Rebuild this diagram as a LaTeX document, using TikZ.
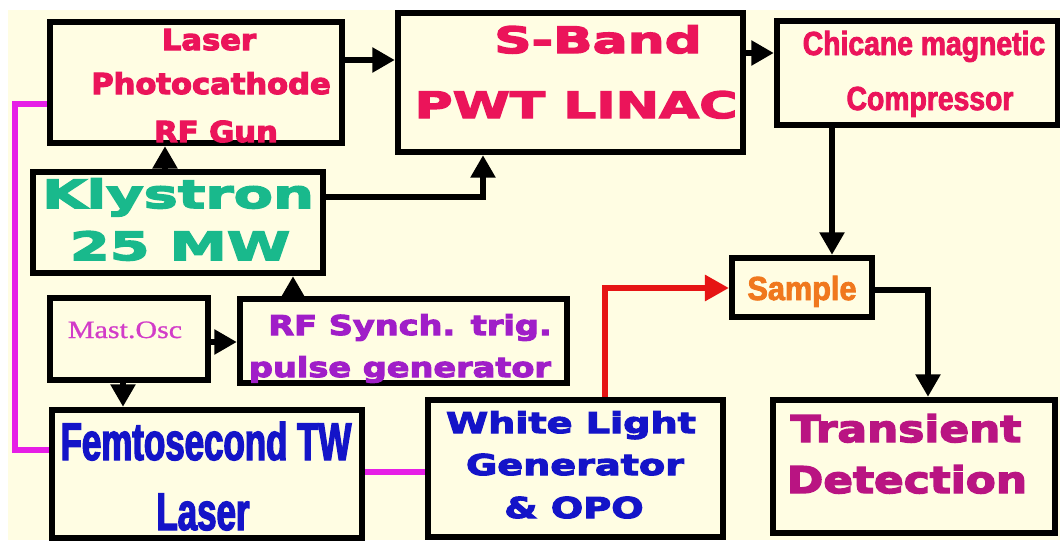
\documentclass[tikz,border=0pt]{standalone}
\usepackage{fontspec}
\usetikzlibrary{arrows.meta,fit}
\newfontfamily\heavyf{DejaVu Sans}
\newfontfamily\condf{Liberation Sans}
\newfontfamily\seriff{Liberation Serif}
\newcommand\HvyFont[2]{\heavyf\bfseries\fontsize{#1}{#1}\selectfont\addfontfeatures{FakeStretch=#2,FakeBold=4}}
\newcommand\CndFont[2]{\condf\bfseries\fontsize{#1}{#1}\selectfont\addfontfeatures{FakeStretch=#2,FakeBold=2.5}}
\definecolor{bgcream}{RGB}{255,253,227}
\definecolor{crimson}{RGB}{235,20,90}
\definecolor{klygreen}{RGB}{25,185,140}
\definecolor{mastpink}{RGB}{210,60,200}
\definecolor{rfpurple}{RGB}{160,30,200}
\definecolor{deepblue}{RGB}{20,20,200}
\definecolor{sampleorange}{RGB}{240,120,30}
\definecolor{transpurple}{RGB}{185,20,130}
\definecolor{magline}{RGB}{230,30,230}
\definecolor{redline}{RGB}{230,20,20}
\tikzset{
  box/.style={draw=black, line width=4.5pt, inner sep=0pt},
  conn/.style={draw=black, line width=4pt, -{Triangle[length=16pt,width=17pt]}},
  redconn/.style={draw=redline, line width=3.6pt, -{Triangle[length=17pt,width=18pt]}},
  magconn/.style={draw=magline, line width=3.8pt},
  txt/.style={anchor=base, inner sep=0pt},
  guntxt/.style={txt, text=crimson, font=\HvyFont{20.5}{1.06}},
  linactxt/.style={txt, text=crimson, font=\HvyFont{25.8}{1.43}},
  chictxt/.style={txt, text=crimson, font=\CndFont{23.7}{0.85}},
  klytxt/.style={txt, text=klygreen, font=\HvyFont{27.6}{1.48}},
  masttxt/.style={txt, text=mastpink, font={\seriff\fontsize{17.8}{17.8}\selectfont\addfontfeatures{FakeStretch=1.2,FakeBold=0.8}}},
  rftxt/.style={txt, text=rfpurple, font=\HvyFont{19.4}{1.23}},
  femtotxt/.style={txt, text=deepblue, font=\CndFont{37.6}{0.66}},
  whitetxt/.style={txt, text=deepblue, font=\HvyFont{20.4}{1.33}},
  sampletxt/.style={txt, text=sampleorange, font=\CndFont{23.7}{0.92}},
  transtxt/.style={txt, text=transpurple, font=\HvyFont{26.2}{1.19}}
}
\begin{document}
\begin{tikzpicture}[x=0.025cm,y=-0.025cm]
\useasboundingbox (0,0) rectangle (1060,540);
\fill[bgcream] (8,10) rectangle (1060,540);
% boxes
\node[box, fit={(50,22) (342,143)}] (gun) {};
\node[box, fit={(398,13) (743,152)}] (linac) {};
\node[box, fit={(777,21) (1058,125)}] (chic) {};
\node[box, fit={(33,172) (323,273)}] (kly) {};
\node[box, fit={(50,298) (208,380)}] (mast) {};
\node[box, fit={(240,299) (567,383)}] (rf) {};
\node[box, fit={(732,258) (872,317)}] (sample) {};
\node[box, fit={(52,410) (362,538)}] (femto) {};
\node[box, fit={(428,400) (723,537)}] (white) {};
\node[box, fit={(773,400) (1055,533)}] (trans) {};
% texts
\node[guntxt] (gunA) at (209,50) {Laser};
\node[guntxt] (gunB) at (211,94) {Photocathode};
\node[guntxt] (gunC) at (216,142) {RF Gun};
\node[linactxt] (linA) at (598,53) {S-Band};
\node[linactxt] (linB) at (576,118) {PWT LINAC};
\node[chictxt] (chA) at (924,55) {Chicane magnetic};
\node[chictxt] (chB) at (930,110) {Compressor};
\node[klytxt] (kyA) at (178,208) {Klystron};
\node[klytxt] (kyB) at (180,260) {25 MW};
\node[masttxt] (msA) at (125,338) {Mast.Osc};
\node[rftxt] (rfA) at (410,335) {RF Synch. trig.};
\node[rftxt] (rfB) at (400,377) {pulse generator};
\node[femtotxt] (feA) at (206,460) {Femtosecond TW};
\node[femtotxt] (feB) at (203,530) {Laser};
\node[whitetxt] (whA) at (571,433) {White Light};
\node[whitetxt] (whB) at (575,475) {Generator};
\node[whitetxt] (whC) at (574,518) {\& OPO};
\node[sampletxt] (saA) at (802,300) {Sample};
\node[transtxt] (trA) at (906,442) {Transient};
\node[transtxt] (trB) at (907,493) {Detection};
% helper coordinates
\coordinate (h60) at (0,60);
\coordinate (h53) at (0,53);
\coordinate (h197) at (0,197);
\coordinate (h342) at (0,342);
\coordinate (h290) at (0,290);
\coordinate (h288) at (0,288);
\coordinate (h472) at (0,472);
\coordinate (v165) at (165,0);
\coordinate (v483) at (483,0);
\coordinate (v293) at (293,0);
\coordinate (v123) at (123,0);
\coordinate (v832) at (832,0);
\coordinate (v928) at (928,0);
\coordinate (v605) at (605,0);
\coordinate (mtop) at (15,104);
\coordinate (mbot) at (15,450);
% connectors
\draw[conn] (gun.east |- h60) -- (linac.west |- h60);
\draw[conn] (linac.east |- h53) -- (chic.west |- h53);
\draw[conn] (kly.north -| v165) -- (gun.south -| v165);
\draw[conn] (kly.east |- h197) -| (linac.south -| v483);
\draw[conn] (rf.north -| v293) -- (kly.south -| v293);
\draw[conn] (mast.east |- h342) -- (rf.west |- h342);
\draw[conn] (mast.south -| v123) -- (femto.north -| v123);
\draw[conn] (chic.south -| v832) -- (sample.north -| v832);
\draw[conn] (sample.east |- h290) -| (trans.north -| v928);
\draw[redconn] (white.north -| v605) |- (sample.west |- h288);
\draw[magconn] (gun.west |- mtop) -- (mtop) -- (mbot) -- (femto.west |- mbot);
\draw[magconn] (femto.east |- h472) -- (white.west |- h472);
\end{tikzpicture}
\end{document}
